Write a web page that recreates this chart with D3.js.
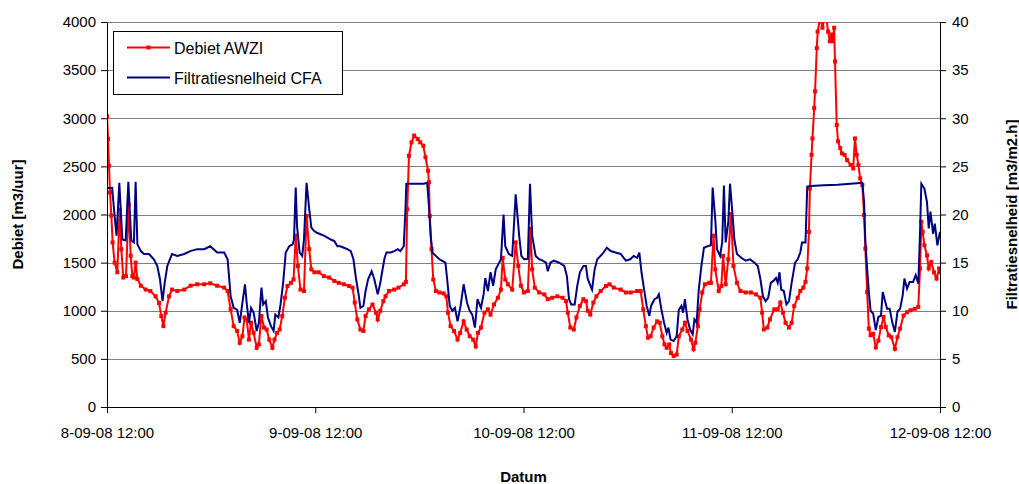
<!DOCTYPE html>
<html>
<head>
<meta charset="utf-8">
<script src="https://cdn.jsdelivr.net/npm/d3@7"></script>
<style>
  body { margin: 0; background: #fff; }
  svg { display: block; font-family: "Liberation Sans", Arial, sans-serif; }
  .axis text { font-size: 15px; fill: #000; }
  .axis path, .axis line { stroke: #000; }
  .grid line { stroke: #808080; }
  .title { font-size: 15px; font-weight: bold; }
  .legend text { font-size: 16px; }
</style>
</head>
<body>
<div id="chart"></div>
<script>
'use strict';

// uren na 8-09-08 12:00
var debietUren = [
  0, 0.12, 0.23, 0.35, 0.5, 0.65, 0.88, 1.19, 1.46, 1.65, 1.88, 2.19, 2.5, 2.73, 2.92, 3.1, 3.3, 3.5, 3.9, 4.46,
  5.0, 5.6, 6.0, 6.26, 6.5, 6.76, 7.15, 7.5, 8.1, 8.9, 9.64, 10.4, 11.2, 11.9, 12.7, 13.5, 13.9, 14.25, 14.6, 15.0,
  15.3, 15.6, 15.85, 16.1, 16.36, 16.6, 16.9, 17.25, 17.5, 17.8, 18.1, 18.4, 18.7, 19.06, 19.3, 19.6, 19.9, 20.2, 20.5, 20.8,
  21.2, 21.5, 21.75, 22.0, 22.3, 22.7, 23.0, 23.3, 23.55, 23.9, 24.4, 25.0, 25.6, 26.2, 26.7, 27.3, 27.9, 28.3, 28.55, 28.85,
  29.2, 29.55, 29.8, 30.2, 30.6, 31.0, 31.2, 31.5, 31.85, 32.1, 32.5, 33.1, 33.6, 34.2, 34.45, 34.6, 34.8, 35.1, 35.4, 35.8,
  36.1, 36.45, 36.7, 37.0, 37.1, 37.2, 37.4, 37.6, 37.9, 38.3, 38.8, 39.1, 39.3, 39.6, 40.0, 40.4, 40.7, 41.1, 41.45, 41.8,
  42.2, 42.5, 42.75, 43.1, 43.5, 43.9, 44.2, 44.6, 45.05, 45.4, 45.6, 45.9, 46.2, 46.7, 47.1, 47.4, 47.7, 48.06, 48.5, 48.8,
  49.0, 49.3, 49.8, 50.4, 50.8, 51.3, 51.9, 52.5, 52.9, 53.1, 53.4, 53.8, 54.1, 54.5, 54.9, 55.2, 55.4, 55.7, 56.05, 56.4,
  56.9, 57.5, 57.9, 58.4, 59.2, 59.8, 60.35, 61.1, 61.5, 61.8, 62.1, 62.35, 62.65, 63.0, 63.4, 63.7, 64.0, 64.25, 64.5, 64.8,
  65.0, 65.3, 65.65, 65.9, 66.3, 66.6, 66.9, 67.3, 67.6, 67.8, 68.1, 68.3, 68.6, 68.9, 69.4, 69.6, 69.9, 70.1, 70.5, 70.8,
  71.0, 71.3, 71.6, 71.9, 72.2, 72.6, 73.0, 73.6, 74.2, 74.8, 75.3, 75.5, 75.7, 76.1, 76.4, 76.9, 77.3, 77.6, 77.9, 78.2,
  78.6, 78.9, 79.2, 79.6, 79.9, 80.25, 80.5, 80.7, 80.9, 81.0, 81.2, 81.3, 81.5, 81.6, 81.8, 81.9, 82.2, 82.45, 82.7, 82.9,
  83.1, 83.3, 83.5, 83.65, 83.8, 83.9, 84.1, 84.25, 84.5, 84.7, 85.0, 85.3, 85.7, 86.0, 86.2, 86.4, 86.6, 86.8, 87.05, 87.25,
  87.4, 87.6, 87.8, 88.0, 88.3, 88.6, 88.9, 89.2, 89.5, 89.75, 90.1, 90.4, 90.8, 91.1, 91.4, 91.8, 92.2, 92.6, 93.1, 93.5,
  93.7, 93.85, 94.0, 94.2, 94.5, 94.7, 95.0, 95.3, 95.6, 95.9, 96.0
];
var debietWaarden = [
  3020, 2785, 2507, 2230, 1990, 1710, 1500, 1400, 2050, 1640, 1345, 1360, 2100, 1570, 1360, 1345, 1500, 1330, 1260, 1220,
  1205, 1150, 1080, 945, 840, 980, 1150, 1220, 1205, 1220, 1260, 1275, 1275, 1285, 1260, 1240, 1205, 1015, 840, 790,
  667, 735, 930, 910, 700, 875, 770, 615, 650, 945, 825, 805, 700, 615, 700, 770, 805, 945, 1135, 1257,
  1290, 1325, 1780, 1465, 1220, 1205, 1985, 1640, 1430, 1400, 1400, 1360, 1345, 1310, 1290, 1275, 1257, 1240, 1085, 910,
  805, 790, 945, 1015, 1065, 980, 910, 1000, 1100, 1150, 1205, 1220, 1240, 1275, 1300, 2055, 2610, 2750, 2820, 2785,
  2750, 2715, 2595, 2455, 2335, 1985, 1640, 1325, 1205, 1190, 1180, 1150, 980, 840, 790, 700, 770, 890, 805, 735,
  700, 630, 770, 825, 980, 1015, 960, 1065, 1135, 1220, 1550, 1325, 1275, 1220, 1710, 1465, 1260, 1190, 1205, 1850,
  1430, 1240, 1190, 1170, 1120, 1135, 1150, 1135, 1100, 980, 825, 805, 930, 1050, 1120, 1100, 1000, 960, 1085, 1150,
  1205, 1257, 1275, 1240, 1220, 1190, 1190, 1205, 1205, 1015, 840, 720, 735, 825, 890, 875, 735, 650, 615, 650,
  560, 530, 545, 735, 805, 875, 790, 700, 600, 667, 840, 1015, 1190, 1275, 1290, 1290, 1780, 1430, 1205, 1257,
  1570, 1275, 1535, 2005, 1465, 1290, 1205, 1190, 1190, 1170, 1135, 980, 805, 825, 910, 1015, 1015, 1085, 980, 875,
  825, 875, 1050, 1135, 1205, 1240, 1300, 1440, 1820, 2270, 2620, 2790, 3105, 3280, 3730, 3900, 4050, 3940, 4050, 4050,
  3900, 3800, 3870, 3800, 3940, 3590, 2930, 2760, 2690, 2635, 2620, 2565, 2515, 2480, 2790, 2620, 2515, 2375, 2305, 1995,
  1645, 1195, 815, 745, 760, 620, 690, 830, 935, 830, 745, 725, 605, 725, 815, 950, 985, 1005, 1020, 1040,
  1440, 1925, 1820, 1680, 1575, 1440, 1505, 1400, 1335, 1440, 1400
];

var filtratieUren = [
  0, 0.6, 0.8, 1.1, 1.42, 1.77, 2.15, 2.46, 2.8, 3.1, 3.3, 3.5, 3.9, 4.26, 4.84, 5.4, 5.8, 6.1, 6.4, 6.65,
  6.95, 7.5, 8.1, 8.9, 9.6, 10.4, 11.2, 11.9, 12.7, 13.5, 13.9, 14.25, 14.6, 15.0, 15.3, 15.6, 15.9, 16.1, 16.36, 16.6,
  16.9, 17.25, 17.5, 17.8, 18.0, 18.3, 18.55, 18.9, 19.2, 19.4, 19.75, 20.0, 20.3, 20.6, 21.0, 21.4, 21.55, 21.75, 21.9, 22.2,
  22.5, 22.7, 23.0, 23.3, 23.55, 23.85, 24.2, 24.6, 25.0, 25.4, 25.8, 26.2, 26.55, 26.9, 27.3, 27.7, 28.1, 28.4, 28.7, 29.0,
  29.2, 29.55, 29.8, 30.1, 30.5, 30.8, 31.2, 31.5, 31.7, 32.0, 32.2, 32.7, 33.1, 33.5, 33.8, 34.2, 34.4, 34.5, 35.0, 35.8,
  36.5, 36.9, 37.1, 37.3, 37.5, 37.9, 38.3, 38.6, 39.0, 39.2, 39.5, 39.8, 40.1, 40.4, 40.75, 41.1, 41.5, 41.8, 42.1, 42.4,
  42.7, 43.1, 43.4, 43.6, 43.9, 44.2, 44.5, 44.8, 45.2, 45.4, 45.7, 45.9, 46.3, 46.7, 47.1, 47.5, 47.75, 48.06, 48.5, 48.75,
  49.0, 49.4, 49.8, 50.2, 50.6, 50.8, 51.1, 51.5, 52.1, 52.7, 53.0, 53.25, 53.5, 53.9, 54.2, 54.5, 54.9, 55.2, 55.4, 55.9,
  56.2, 56.5, 57.1, 57.6, 58.05, 58.6, 59.2, 59.8, 60.3, 60.7, 61.1, 61.35, 61.6, 61.9, 62.2, 62.5, 62.7, 63.1, 63.4, 63.6,
  63.9, 64.2, 64.5, 64.7, 64.95, 65.3, 65.65, 65.9, 66.2, 66.4, 66.6, 66.9, 67.2, 67.5, 67.7, 67.95, 68.2, 68.5, 68.8, 69.2,
  69.6, 69.8, 70.1, 70.3, 70.65, 70.9, 71.1, 71.3, 71.6, 71.8, 72.1, 72.3, 72.6, 73.1, 73.6, 74.1, 74.6, 75.0, 75.3, 75.6,
  75.9, 76.2, 76.5, 76.8, 77.1, 77.3, 77.5, 77.7, 78.0, 78.3, 78.6, 78.9, 79.3, 79.6, 79.9, 80.1, 80.5, 80.7, 81.1, 82.6,
  84.2, 85.7, 87.05, 87.25, 87.4, 87.6, 87.8, 88.0, 88.3, 88.6, 88.9, 89.2, 89.4, 89.6, 89.9, 90.2, 90.5, 90.8, 91.1, 91.4,
  91.7, 91.9, 92.2, 92.5, 92.9, 93.2, 93.5, 93.7, 93.85, 94.2, 94.5, 94.7, 94.9, 95.2, 95.4, 95.7, 96.0
];
var filtratieWaarden = [
  22.75, 22.75, 20.6, 17.8, 23.3, 17.4, 17.3, 23.4, 17.3, 17.1, 23.4, 16.9, 16.2, 15.9, 15.9, 15.35, 14.65, 13.3, 11.0, 12.9,
  14.65, 15.9, 15.7, 15.9, 16.2, 16.4, 16.4, 16.7, 16.05, 16.05, 15.35, 11.5, 10.3, 10.1, 8.75, 10.8, 12.75, 10.8, 8.75, 10.3,
  9.8, 7.9, 8.75, 12.4, 10.65, 11.0, 9.3, 8.4, 7.9, 9.6, 9.3, 10.65, 12.9, 16.05, 16.7, 16.9, 17.4, 22.8, 18.8, 16.05,
  15.7, 17.4, 23.3, 20.6, 18.65, 18.3, 18.1, 17.95, 17.8, 17.6, 17.4, 17.25, 16.7, 16.7, 16.55, 16.4, 16.2, 15.35, 13.3, 11.7,
  10.3, 10.5, 12.05, 13.3, 14.1, 13.3, 11.7, 12.9, 14.0, 15.5, 16.05, 16.05, 16.2, 16.4, 16.2, 16.7, 20.6, 23.2, 23.2, 23.2,
  23.2, 23.3, 20.9, 17.8, 16.05, 15.7, 15.35, 15.2, 15.0, 13.3, 10.5, 10.0, 10.3, 8.9, 10.5, 12.75, 10.8, 10.0, 9.6, 8.25,
  11.2, 10.3, 11.7, 13.4, 12.05, 14.0, 12.6, 14.3, 15.0, 15.35, 20.0, 16.7, 15.9, 15.7, 22.1, 17.8, 15.7, 15.35, 15.4, 23.2,
  17.8, 15.7, 15.35, 15.2, 15.0, 14.1, 15.0, 15.2, 15.0, 14.65, 13.6, 11.2, 10.65, 10.65, 12.6, 14.0, 14.65, 14.65, 13.3, 12.2,
  14.3, 15.35, 15.9, 16.55, 16.2, 16.05, 15.9, 15.2, 15.35, 15.7, 15.5, 16.05, 14.0, 12.2, 10.5, 9.45, 10.5, 11.2, 11.35, 11.7,
  10.1, 8.75, 7.7, 8.25, 7.0, 6.85, 7.35, 10.1, 10.5, 9.8, 11.2, 9.1, 8.05, 7.55, 9.1, 8.75, 12.2, 14.65, 16.55, 16.7,
  16.8, 22.8, 19.5, 16.4, 15.7, 17.1, 23.0, 17.1, 19.2, 23.2, 19.9, 17.4, 15.9, 15.5, 15.2, 15.35, 15.0, 14.65, 13.3, 11.5,
  11.0, 11.35, 12.9, 13.1, 13.4, 12.9, 14.0, 12.2, 12.05, 10.65, 11.0, 12.9, 15.0, 15.35, 16.05, 17.1, 17.1, 22.9, 22.95, 23.05,
  23.1, 23.2, 23.3, 21.3, 17.15, 14.4, 11.95, 10.0, 9.7, 8.0, 9.35, 9.5, 11.95, 11.25, 10.2, 10.2, 8.8, 7.8, 9.9, 10.2,
  11.6, 13.35, 12.3, 13.0, 13.0, 13.7, 12.8, 18.2, 23.2, 22.7, 21.3, 18.55, 20.3, 18.0, 19.05, 16.8, 18.2
];

var debietTicks = [0, 500, 1000, 1500, 2000, 2500, 3000, 3500, 4000];
var filtratieTicks = [0, 5, 10, 15, 20, 25, 30, 35, 40];
var datumTicks = ['8-09-08 12:00', '9-09-08 12:00', '10-09-08 12:00', '11-09-08 12:00', '12-09-08 12:00'];

var margin = { top: 22, right: 79, bottom: 77, left: 107 };
var totalWidth = 1019, totalHeight = 484;
var width = totalWidth - margin.left - margin.right;
var height = totalHeight - margin.top - margin.bottom;

var parseDatum = d3.timeParse('%d-%m-%y %H:%M');
var formatDatum = d3.timeFormat('%-d-%m-%y %H:%M');
var start = parseDatum(datumTicks[0]);

function naarDatum(uur) {
  return new Date(start.getTime() + uur * 3600 * 1000);
}

var debiet = debietUren.map(function (u, i) { return { t: naarDatum(u), v: debietWaarden[i] }; });
var filtratie = filtratieUren.map(function (u, i) { return { t: naarDatum(u), v: filtratieWaarden[i] }; });

var x = d3.scaleTime()
    .domain([start, parseDatum(datumTicks[datumTicks.length - 1])])
    .range([0, width]);
var yLeft = d3.scaleLinear().domain([0, 4000]).range([height, 0]);
var yRight = d3.scaleLinear().domain([0, 40]).range([height, 0]);

var svg = d3.select('#chart')
  .append('svg')
    .attr('width', totalWidth)
    .attr('height', totalHeight);

var g = svg.append('g')
    .attr('transform', 'translate(' + margin.left + ',' + margin.top + ')');

// horizontal gridlines
g.append('g')
    .attr('class', 'grid')
  .selectAll('line')
  .data(debietTicks.slice(1))
  .enter().append('line')
    .attr('x1', 0)
    .attr('x2', width)
    .attr('y1', function (d) { return Math.round(yLeft(d)) + 0.5; })
    .attr('y2', function (d) { return Math.round(yLeft(d)) + 0.5; });

g.append('clipPath')
    .attr('id', 'plotclip')
  .append('rect')
    .attr('x', 0)
    .attr('y', 0)
    .attr('width', width)
    .attr('height', height);

var plot = g.append('g').attr('clip-path', 'url(#plotclip)');

var lineLeft = d3.line()
    .x(function (d) { return x(d.t); })
    .y(function (d) { return yLeft(d.v); });
var lineRight = d3.line()
    .x(function (d) { return x(d.t); })
    .y(function (d) { return yRight(d.v); });

plot.append('path')
    .attr('d', lineLeft(debiet))
    .attr('fill', 'none')
    .attr('stroke', '#ff0000')
    .attr('stroke-width', 2);

plot.selectAll('rect.marker')
  .data(debiet)
  .enter().append('rect')
    .attr('class', 'marker')
    .attr('x', function (d) { return x(d.t) - 2; })
    .attr('y', function (d) { return yLeft(d.v) - 2; })
    .attr('width', 4)
    .attr('height', 4)
    .attr('fill', '#ff0000');

plot.append('path')
    .attr('d', lineRight(filtratie))
    .attr('fill', 'none')
    .attr('stroke', '#000080')
    .attr('stroke-width', 2);

// axes
var xAxis = d3.axisBottom(x)
    .tickValues(datumTicks.map(parseDatum))
    .tickFormat(formatDatum)
    .tickSize(6)
    .tickSizeOuter(0)
    .tickPadding(14);

g.append('g')
    .attr('class', 'x axis')
    .attr('transform', 'translate(0,' + height + ')')
    .call(xAxis);

g.append('g')
    .attr('class', 'y axis')
    .call(d3.axisLeft(yLeft).tickValues(debietTicks).tickFormat(d3.format('d'))
      .tickSize(6).tickSizeOuter(0).tickPadding(5));

g.append('g')
    .attr('class', 'y axis')
    .attr('transform', 'translate(' + width + ',0)')
    .call(d3.axisRight(yRight).tickValues(filtratieTicks).tickFormat(d3.format('d'))
      .tickSize(6).tickSizeOuter(0).tickPadding(6));

// axis titles
svg.append('text')
    .attr('class', 'title')
    .attr('text-anchor', 'middle')
    .attr('transform', 'translate(23,' + (margin.top + height / 2) + ') rotate(-90)')
    .text('Debiet [m3/uur]');

svg.append('text')
    .attr('class', 'title')
    .attr('text-anchor', 'middle')
    .attr('transform', 'translate(1017,' + (margin.top + height / 2) + ') rotate(-90)')
    .text('Filtratiesnelheid [m3/m2.h]');

svg.append('text')
    .attr('class', 'title')
    .attr('text-anchor', 'middle')
    .attr('x', margin.left + width / 2)
    .attr('y', 482)
    .text('Datum');

// legend
var legend = svg.append('g').attr('class', 'legend');
legend.append('rect')
    .attr('x', 113.5)
    .attr('y', 31.5)
    .attr('width', 229)
    .attr('height', 63)
    .attr('fill', '#fff')
    .attr('stroke', '#000');

var legendItems = [
  { label: 'Debiet AWZI', color: '#ff0000', marker: true },
  { label: 'Filtratiesnelheid CFA', color: '#000080', marker: false }
];

legendItems.forEach(function (item, i) {
  var ly = 47.5 + i * 30;
  legend.append('line')
      .attr('x1', 127)
      .attr('x2', 170)
      .attr('y1', ly)
      .attr('y2', ly)
      .attr('stroke', item.color)
      .attr('stroke-width', 2);
  if (item.marker) {
    legend.append('rect')
        .attr('x', 146.5)
        .attr('y', ly - 2)
        .attr('width', 4)
        .attr('height', 4)
        .attr('fill', item.color);
  }
  legend.append('text')
      .attr('x', 174)
      .attr('y', ly + 6)
      .text(item.label);
});
</script>
</body>
</html>
